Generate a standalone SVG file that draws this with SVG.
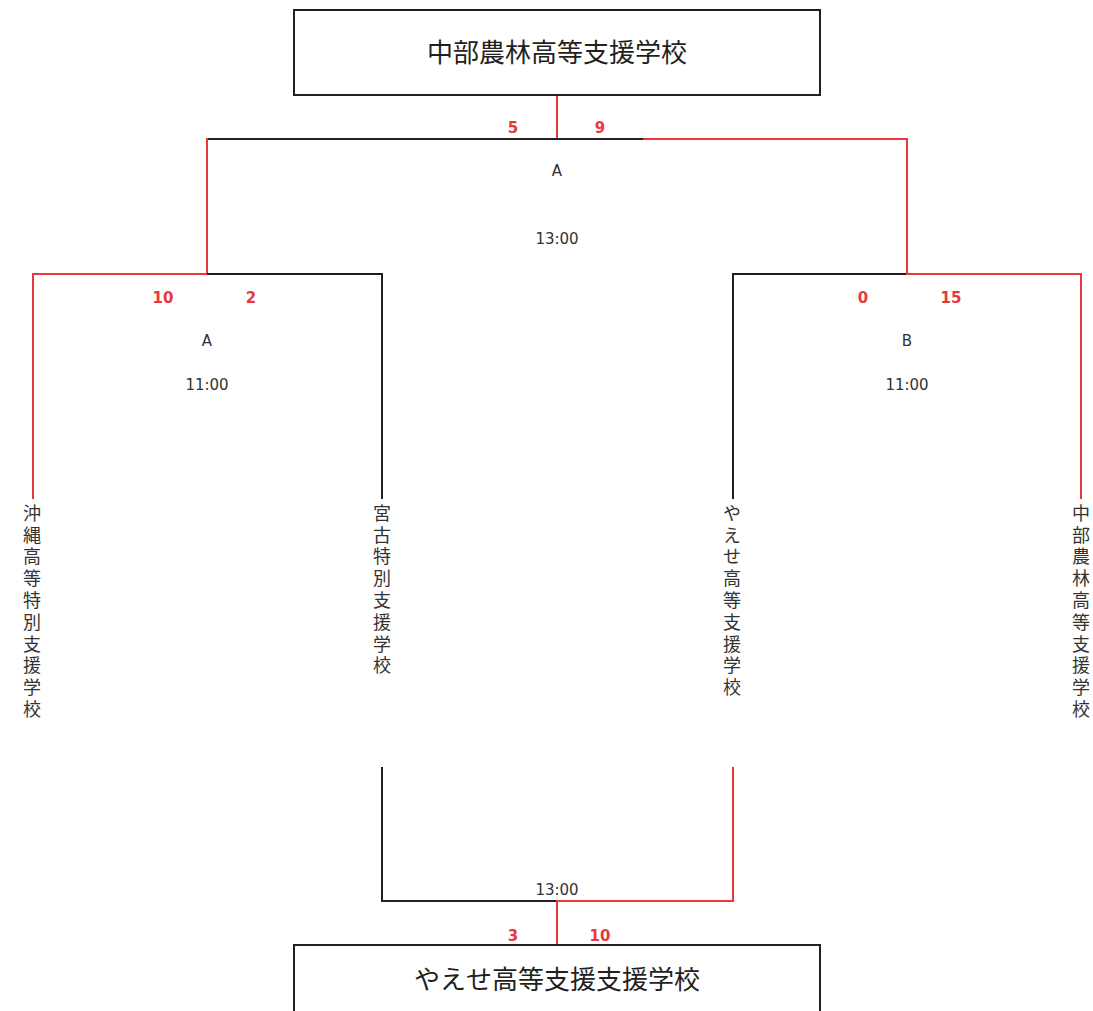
<svg xmlns="http://www.w3.org/2000/svg" width="1093" height="1011" viewBox="0 0 1093 1011">
<style>
.bg{fill:#ffffff}
.box{fill:#ffffff;stroke:#231f20;stroke-width:2}
.k{stroke:#231f20;stroke-width:2;fill:none;stroke-linecap:square}
.r{stroke:#e8383d;stroke-width:2;fill:none;stroke-linecap:square}
.big{font-family:"Noto Sans CJK JP","Noto Sans",sans-serif;font-size:26px;fill:#231f20;text-anchor:middle}
.team{font-family:"Noto Sans CJK JP","Noto Sans",sans-serif;font-size:18px;fill:#333333;writing-mode:vertical-rl;text-orientation:upright;letter-spacing:3.8px}
.info{font-family:"DejaVu Sans","Noto Sans",sans-serif;font-size:15px;fill:#333333;text-anchor:middle}
.score{font-family:"DejaVu Sans","Noto Sans",sans-serif;font-size:15px;font-weight:bold;fill:#e8383d;text-anchor:middle}
</style>
<rect class="bg" x="0" y="0" width="1093" height="1011"/>
<g id="connectors">
  <line class="r" x1="557" y1="95" x2="557" y2="139"/>
  <line class="k" x1="207" y1="139" x2="643" y2="139"/>
  <line class="r" x1="644" y1="139" x2="907" y2="139"/>
  <line class="r" x1="207" y1="139" x2="207" y2="274"/>
  <line class="r" x1="907" y1="139" x2="907" y2="274"/>
  <line class="r" x1="33" y1="274" x2="207" y2="274"/>
  <line class="k" x1="208" y1="274" x2="382" y2="274"/>
  <line class="r" x1="33" y1="274" x2="33" y2="498"/>
  <line class="k" x1="382" y1="274" x2="382" y2="498"/>
  <line class="k" x1="733" y1="274" x2="906" y2="274"/>
  <line class="r" x1="907" y1="274" x2="1081" y2="274"/>
  <line class="k" x1="733" y1="274" x2="733" y2="498"/>
  <line class="r" x1="1081" y1="274" x2="1081" y2="498"/>
  <line class="k" x1="382" y1="768" x2="382" y2="901"/>
  <line class="r" x1="733" y1="768" x2="733" y2="901"/>
  <line class="k" x1="382" y1="901" x2="556" y2="901"/>
  <line class="r" x1="557" y1="901" x2="733" y2="901"/>
  <line class="r" x1="557" y1="901" x2="557" y2="945"/>
</g>
<g id="champion-top">
  <rect class="box" x="294" y="10" width="526" height="85"/>
  <text class="big" x="557" y="62">中部農林高等支援学校</text>
</g>
<g id="champion-bottom">
  <rect class="box" x="294" y="945" width="526" height="100"/>
  <text class="big" x="557" y="989">やえせ高等支援支援学校</text>
</g>
<g id="match-final-top">
  <text class="score" x="513" y="133">5</text>
  <text class="score" x="600" y="133">9</text>
  <text class="info" x="557" y="176">A</text>
  <text class="info" x="557" y="243.5">13:00</text>
</g>
<g id="match-a">
  <text class="score" x="163" y="303">10</text>
  <text class="score" x="251" y="303">2</text>
  <text class="info" x="207" y="345.5">A</text>
  <text class="info" x="207" y="390">11:00</text>
</g>
<g id="match-b">
  <text class="score" x="863" y="303">0</text>
  <text class="score" x="951" y="303">15</text>
  <text class="info" x="907" y="345.5">B</text>
  <text class="info" x="907" y="390">11:00</text>
</g>
<g id="match-final-bottom">
  <text class="info" x="557" y="895">13:00</text>
  <text class="score" x="513" y="940.5">3</text>
  <text class="score" x="600" y="940.5">10</text>
</g>
<g id="team-okinawa">
  <text class="team" x="32" y="504">沖縄高等特別支援学校</text>
</g>
<g id="team-miyako">
  <text class="team" x="382" y="504">宮古特別支援学校</text>
</g>
<g id="team-yaese">
  <text class="team" x="732" y="504">やえせ高等支援学校</text>
</g>
<g id="team-chubu">
  <text class="team" x="1081" y="504">中部農林高等支援学校</text>
</g>
</svg>
